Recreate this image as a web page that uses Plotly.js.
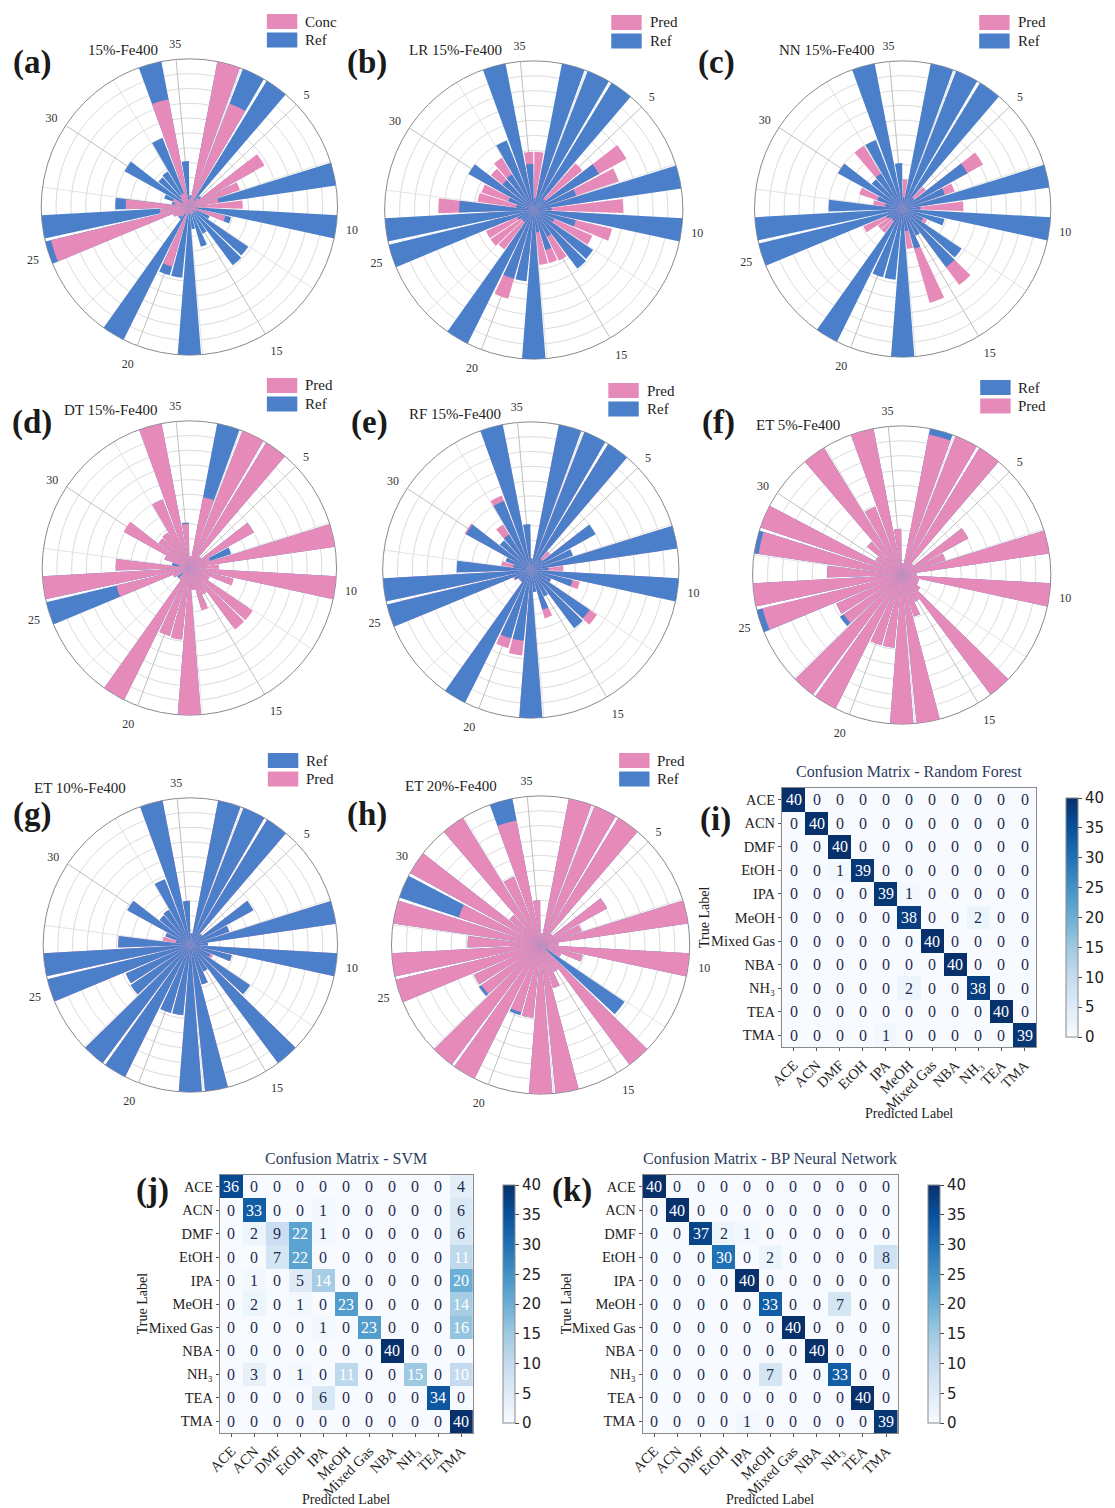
<!DOCTYPE html>
<html><head><meta charset="utf-8">
<script src="https://cdn.plot.ly/plotly-3.0.1.min.js"></script>
<style>html,body{margin:0;padding:0;background:#fff;overflow:hidden;width:1115px;height:1508px}#chart{width:1115px;height:1508px;overflow:hidden}</style>
</head><body><div id="chart"></div>
<script>
// ---------------- DATA ----------------
const sensors = ['1','2','3','4','5','6','7','8','9','10','11','12','13','14','15','16','17','18','19','20','21','22','23','24','25','26','27','28','29','30','31','32','33','34','35'];
const spokeTicks = ['5','10','15','20','25','30','35'];

// 15%-Fe400 reference
const ref15 = [0.08,1,1,1,0.1,0.5,0.3,1,0.12,1,0.29,0.15,0.48,0.49,0.2,0.28,0.15,1,0.48,0.48,1,0.1,0.1,0.12,1,1,0.5,0.12,0.18,0.5,0.27,0.28,0.5,1,0.31];
const concA = [0.05,1,0.75,0.05,0.08,0.58,0.36,0.2,0.36,0.04,0.25,0.05,0.05,0.03,0.05,0.05,0.05,0.03,0.05,0.42,0.05,0.08,0.1,0.12,0.96,0.2,0.43,0.1,0.12,0.05,0.08,0.1,0.1,0.74,0.05];
const predLR = [0.39,0.3,0.3,0.3,0.42,0.71,0.6,0.35,0.6,0.3,0.54,0.43,0.4,0.4,0.38,0.37,0.37,0.3,0.4,0.62,0.3,0.33,0.35,0.35,0.3,0.3,0.64,0.38,0.37,0.4,0.37,0.41,0.4,0.3,0.39];
const predNN = [0.2,0.15,0.15,0.15,0.2,0.62,0.37,0.2,0.41,0.1,0.15,0.18,0.2,0.64,0.2,0.66,0.27,0.15,0.15,0.15,0.15,0.2,0.2,0.29,0.1,0.1,0.2,0.2,0.31,0.15,0.2,0.5,0.2,0.15,0.1];
const predDT = [0.08,0.49,1,1,0.1,0.5,0.15,1,0.2,1,0.31,0.15,0.52,0.52,0.2,0.3,0.15,1,0.49,0.48,1,0.1,0.06,0.12,0.51,1,0.5,0.07,0.18,0.51,0.27,0.28,0.5,1,0.3];
const predRF = [0.05,0.9,0.9,0.9,0.17,0.45,0.25,0.9,0.22,0.9,0.34,0.15,0.54,0.45,0.15,0.34,0.1,0.9,0.58,0.55,0.9,0.1,0.1,0.13,0.9,0.9,0.45,0.2,0.15,0.51,0.2,0.36,0.54,0.9,0.25];
// 5%-Fe400
const ref5 = [0.08,1,1,1,0.1,0.51,0.31,1,0.1,1,0.12,0.12,0.15,1,0.2,0.29,1,1,0.49,0.49,1,1,0.5,0.48,1,1,0.5,1,1,0.2,0.3,1,0.49,1,0.31];
const predET5 = [0.08,0.96,1,1,0.1,0.51,0.31,1,0.1,1,0.12,0.12,0.15,1,0.2,0.29,1,1,0.49,0.49,1,1,0.47,0.48,0.96,1,0.5,0.97,1,0.2,0.3,1,0.49,1,0.31];
// 10%-Fe400
const ref10 = [0.08,1,1,1,0.1,0.49,0.28,1,0.12,1,0.29,0.15,0.49,1,0.2,0.28,1,1,0.48,0.48,1,1,0.49,0.48,1,1,0.49,0.1,0.18,0.49,0.27,0.28,0.48,1,0.3];
const predET10 = [0.08,1,1,1,0.1,0.49,0.28,1,0.12,1,0.29,0.17,0.49,1,0.2,0.28,1,1,0.48,0.48,1,1,0.49,0.48,1,1,0.49,0.19,0.18,0.49,0.27,0.28,0.48,1,0.3];
// 20%-Fe400
const ref20 = [0.08,1,1,1,0.1,0.51,0.29,1,0.12,1,0.29,0.15,0.68,1,0.2,0.3,1,1,0.49,0.49,1,1,0.5,0.49,1,1,0.49,1,1,1,0.27,1,0.49,1,0.3];
const predET20 = [0.08,1,1,1,0.1,0.51,0.29,1,0.12,1,0.29,0.15,0.02,1,0.2,0.3,1,1,0.49,0.47,1,1,0.48,0.49,1,1,0.49,1,0.58,1,0.27,1,0.49,0.85,0.3];

// Confusion matrices
const classes = ['ACE','ACN','DMF','EtOH','IPA','MeOH','Mixed Gas','NBA','NH₃','TEA','TMA'];
const cmRF = [
 [40,0,0,0,0,0,0,0,0,0,0],
 [0,40,0,0,0,0,0,0,0,0,0],
 [0,0,40,0,0,0,0,0,0,0,0],
 [0,0,1,39,0,0,0,0,0,0,0],
 [0,0,0,0,39,1,0,0,0,0,0],
 [0,0,0,0,0,38,0,0,2,0,0],
 [0,0,0,0,0,0,40,0,0,0,0],
 [0,0,0,0,0,0,0,40,0,0,0],
 [0,0,0,0,0,2,0,0,38,0,0],
 [0,0,0,0,0,0,0,0,0,40,0],
 [0,0,0,0,1,0,0,0,0,0,39]];
const cmSVM = [
 [36,0,0,0,0,0,0,0,0,0,4],
 [0,33,0,0,1,0,0,0,0,0,6],
 [0,2,9,22,1,0,0,0,0,0,6],
 [0,0,7,22,0,0,0,0,0,0,11],
 [0,1,0,5,14,0,0,0,0,0,20],
 [0,2,0,1,0,23,0,0,0,0,14],
 [0,0,0,0,1,0,23,0,0,0,16],
 [0,0,0,0,0,0,0,40,0,0,0],
 [0,3,0,1,0,11,0,0,15,0,10],
 [0,0,0,0,6,0,0,0,0,34,0],
 [0,0,0,0,0,0,0,0,0,0,40]];
const cmBP = [
 [40,0,0,0,0,0,0,0,0,0,0],
 [0,40,0,0,0,0,0,0,0,0,0],
 [0,0,37,2,1,0,0,0,0,0,0],
 [0,0,0,30,0,2,0,0,0,0,8],
 [0,0,0,0,40,0,0,0,0,0,0],
 [0,0,0,0,0,33,0,0,7,0,0],
 [0,0,0,0,0,0,40,0,0,0,0],
 [0,0,0,0,0,0,0,40,0,0,0],
 [0,0,0,0,0,7,0,0,33,0,0],
 [0,0,0,0,0,0,0,0,0,40,0],
 [0,0,0,0,1,0,0,0,0,0,39]];

// ---------------- STYLE / LAYOUT ----------------
const W = 1115, H = 1508;
const PINK = '#e68ab9', BLUE = '#4b7fc9';
const SERIF = '"Liberation Serif","Times New Roman",Times,serif';
const px = v => v / W, py = v => 1 - v / H;

const panels = [
 {letter:'(a)', lx:33, ly:62, cx:193, cy:207, r:151, title:'15%-Fe400', tx:125, ty:50, legX:272, legY:14, ref:ref15, pred:concA, predName:'Conc', top:'pred', order:['pred','ref']},
 {letter:'(b)', lx:374, ly:62, cx:544, cy:210, r:152, title:'LR 15%-Fe400', tx:464, ty:50, legX:623, legY:15, ref:ref15, pred:predLR, predName:'Pred', top:'ref', order:['pred','ref']},
 {letter:'(c)', lx:730, ly:62, cx:920, cy:209, r:151, title:'NN 15%-Fe400', tx:842, ty:50, legX:998, legY:15, ref:ref15, pred:predNN, predName:'Pred', top:'ref', order:['pred','ref']},
 {letter:'(d)', lx:33, ly:422, cx:193, cy:568, r:150, title:'DT 15%-Fe400', tx:113, ty:410, legX:272, legY:378, ref:ref15, pred:predDT, predName:'Pred', top:'pred', order:['pred','ref']},
 {letter:'(e)', lx:377, ly:422, cx:541, cy:570, r:151, title:'RF 15%-Fe400', tx:464, ty:414, legX:620, legY:383, ref:ref15, pred:predRF, predName:'Pred', top:'ref', order:['pred','ref']},
 {letter:'(f)', lx:732, ly:422, cx:919, cy:575, r:152, title:'ET 5%-Fe400', tx:813, ty:425, legX:999, legY:380, ref:ref5, pred:predET5, predName:'Pred', top:'pred', order:['ref','pred']},
 {letter:'(g)', lx:33, ly:814, cx:194, cy:945, r:150, title:'ET 10%-Fe400', tx:82, ty:788, legX:273, legY:753, ref:ref10, pred:predET10, predName:'Pred', top:'ref', order:['ref','pred']},
 {letter:'(h)', lx:374, ly:814, cx:551, cy:945, r:152, title:'ET 20%-Fe400', tx:460, ty:786, legX:631, legY:753, ref:ref20, pred:predET20, predName:'Pred', top:'pred', order:['pred','ref']}
];

const step = 360 / 35;
const minorAngles = [0,1,2,3,4,5,6].map(j => (5 * j + 2) * step);

const data = [];
const layout = {
  width: W, height: H, autosize: false, margin: {l:0, r:0, t:0, b:0, pad:0},
  paper_bgcolor: '#fff', plot_bgcolor: '#fff', showlegend: false,
  font: {family: SERIF, color: '#222'},
  annotations: [], shapes: []
};

panels.forEach((p, i) => {
  const gid = i === 0 ? 'polar' : 'polar' + (i + 1);
  const bid = 'polar' + (i + 9);
  const dom = {x: [px(p.cx - p.r), px(p.cx + p.r)], y: [py(p.cy + p.r), py(p.cy - p.r)]};
  // grid underlay
  data.push({type:'barpolar', r:[], theta:[], subplot:gid, showlegend:false, hoverinfo:'skip'});
  layout[gid] = {
    domain: dom, bgcolor: '#ffffff',
    angularaxis: {thetaunit:'degrees', rotation:90, direction:'clockwise', tickvals:minorAngles,
      showticklabels:false, ticks:'', gridcolor:'#e4e4e4', gridwidth:1, showline:true, linecolor:'#8a8a8a', linewidth:1},
    radialaxis: {range:[0,1], dtick:0.1, showticklabels:false, ticks:'', showline:false, gridcolor:'#dcdcdc', gridwidth:1}
  };
  // bars
  const refTrace = {type:'barpolar', name:'Ref', theta:sensors, r:p.ref, subplot:bid,
    marker:{color:BLUE, line:{width:0}}, hoverinfo:'r+theta+name'};
  const predTrace = {type:'barpolar', name:p.predName, theta:sensors, r:p.pred, subplot:bid,
    marker:{color:PINK, line:{width:0}}, hoverinfo:'r+theta+name'};
  if (p.top === 'pred') { data.push(refTrace, predTrace); } else { data.push(predTrace, refTrace); }
  layout[bid] = {
    domain: dom, bgcolor: 'rgba(0,0,0,0)', barmode:'overlay', bargap:0.12,
    angularaxis: {type:'category', categoryorder:'array', categoryarray:sensors,
      rotation: 90 - step / 2, direction:'clockwise', tickvals:spokeTicks, ticktext:spokeTicks,
      showgrid:true, gridcolor:'#c0c0c0', gridwidth:1, showline:false, ticks:'outside', ticklen:7,
      tickcolor:'rgba(0,0,0,0)', tickfont:{family:SERIF, size:12, color:'#333'}},
    radialaxis: {range:[0,1], visible:false}
  };
  // panel letter & title
  layout.annotations.push({xref:'paper', yref:'paper', x:px(p.lx), y:py(p.ly), text:'<b>' + p.letter + '</b>',
    showarrow:false, font:{family:SERIF, size:33, color:'#1a1a1a'}, xanchor:'center', yanchor:'middle'});
  layout.annotations.push({xref:'paper', yref:'paper', x:px(p.tx), y:py(p.ty), text:p.title,
    showarrow:false, font:{family:SERIF, size:15, color:'#222'}, xanchor:'center', yanchor:'middle'});
  // legend
  p.order.forEach((k, j) => {
    const y0 = p.legY + j * 18.5;
    layout.shapes.push({type:'rect', xref:'paper', yref:'paper', x0:px(p.legX), x1:px(p.legX + 31),
      y0:py(y0 + 15), y1:py(y0), fillcolor: k === 'ref' ? BLUE : PINK, line:{width:0}});
    layout.annotations.push({xref:'paper', yref:'paper', x:px(p.legX + 37), y:py(y0 + 7.5),
      text: k === 'ref' ? 'Ref' : p.predName, showarrow:false, xanchor:'left', yanchor:'middle',
      font:{family:SERIF, size:15, color:'#222'}});
  });
});

// Heatmaps
const BLUES = [[0,'#f7fbff'],[0.125,'#deebf7'],[0.25,'#c6dbef'],[0.375,'#9ecae1'],[0.5,'#6baed6'],
  [0.625,'#4292c6'],[0.75,'#2171b5'],[0.875,'#08519c'],[1,'#08306b']];
const hms = [
  {cm:cmRF, title:'Confusion Matrix - Random Forest', x0:797, x1:1056, y0:788, y1:1047, cbx:1076, letter:'(i)', lx:729, ly:820, ylabX:718},
  {cm:cmSVM, title:'Confusion Matrix - SVM', x0:224, x1:482, y0:1175, y1:1433, cbx:502, letter:'(j)', lx:155, ly:1190, ylabX:145},
  {cm:cmBP, title:'Confusion Matrix - BP Neural Network', x0:655, x1:915, y0:1175, y1:1433, cbx:936, letter:'(k)', lx:583, ly:1190, ylabX:577}
];
hms.forEach((h, i) => {
  const xa = i === 0 ? 'x' : 'x' + (i + 1), ya = i === 0 ? 'y' : 'y' + (i + 1);
  const xk = i === 0 ? 'xaxis' : 'xaxis' + (i + 1), yk = i === 0 ? 'yaxis' : 'yaxis' + (i + 1);
  data.push({type:'heatmap', z:h.cm, x:classes, y:classes, xaxis:xa, yaxis:ya, colorscale:BLUES, zmin:0, zmax:40,
    xgap:0, ygap:0, hoverinfo:'x+y+z',
    colorbar:{x:px(h.cbx), xanchor:'left', y:py((h.y0 + h.y1) / 2), yanchor:'middle', len:h.y1 - h.y0, lenmode:'pixels',
      thickness:12, thicknessmode:'pixels', outlinewidth:1, outlinecolor:'#8a8a8a', ticks:'outside', ticklen:4,
      tickcolor:'#444', tickvals:[0,5,10,15,20,25,30,35,40], tickfont:{family:'DejaVu Sans', size:15, color:'#222'}}});
  const axCommon = {type:'category', showline:true, mirror:true, linecolor:'#8a8a8a', linewidth:1, ticks:'outside',
    ticklen:3, tickcolor:'#555', showgrid:false, zeroline:false, tickfont:{family:SERIF, size:14.5, color:'#222'}};
  layout[xk] = Object.assign({}, axCommon, {domain:[px(h.x0), px(h.x1)], anchor:ya, tickangle:-45, categoryorder:'array', categoryarray:classes});
  layout[yk] = Object.assign({}, axCommon, {domain:[py(h.y1), py(h.y0)], anchor:xa, autorange:'reversed', categoryorder:'array', categoryarray:classes});
  h.cm.forEach((row, r) => row.forEach((v, c) => {
    layout.annotations.push({xref:xa, yref:ya, x:classes[c], y:classes[r], text:String(v), showarrow:false,
      font:{family:SERIF, size:16, color: v >= 10 ? '#ffffff' : '#1f2d4d'}});
  }));
  const cx = (h.x0 + h.x1) / 2;
  layout.annotations.push({xref:'paper', yref:'paper', x:px(cx), y:py(h.y0 - 17), text:h.title, showarrow:false,
    font:{family:SERIF, size:16, color:'#2e3d5f'}, xanchor:'center', yanchor:'middle'});
  layout.annotations.push({xref:'paper', yref:'paper', x:px(cx), y:py(h.y1 + 66), text:'Predicted Label', showarrow:false,
    font:{family:SERIF, size:14, color:'#222'}, xanchor:'center', yanchor:'middle'});
  layout.annotations.push({xref:'paper', yref:'paper', x:px(h.ylabX), y:py((h.y0 + h.y1) / 2), text:'True Label', showarrow:false,
    textangle:-90, font:{family:SERIF, size:14, color:'#222'}, xanchor:'center', yanchor:'middle'});
  layout.annotations.push({xref:'paper', yref:'paper', x:px(h.lx), y:py(h.ly), text:'<b>' + h.letter + '</b>',
    showarrow:false, font:{family:SERIF, size:33, color:'#1a1a1a'}, xanchor:'center', yanchor:'middle'});
});

Plotly.newPlot('chart', data, layout, {staticPlot:true, displayModeBar:false});
</script></body></html>
